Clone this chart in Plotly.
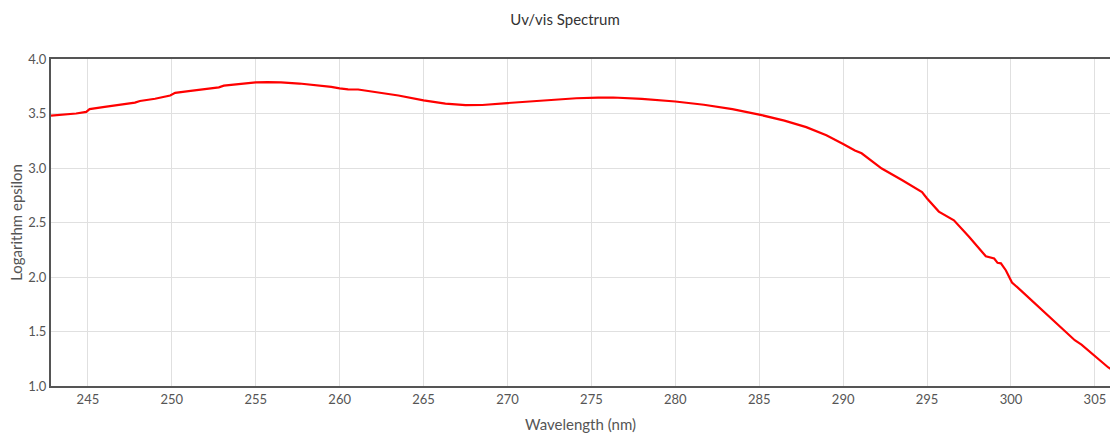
import plotly.graph_objects as go

wavelength = [242.8, 243.3, 243.8, 244.3, 244.9, 245.1, 246.0, 247.0, 247.8, 248.1, 249.0, 249.9, 250.2,
              251.0, 252.0, 252.8, 253.1, 254.0, 255.0, 255.7, 256.5, 257.6, 258.8, 259.5, 260.0, 260.5,
              261.1, 262.0, 263.5, 265.0, 266.3, 267.5, 268.5, 270.0, 272.0, 274.1, 275.4, 276.3, 278.0,
              280.0, 281.7, 283.4, 285.0, 286.5, 287.8, 289.0, 290.0, 290.7, 291.1, 291.6, 292.3, 293.5,
              294.7, 295.0, 295.7, 296.6, 297.5, 298.5, 299.0, 299.2, 299.4, 299.7, 300.06, 300.6, 302.0,
              303.8, 304.2, 305.0, 305.8, 306.5]
log_epsilon = [3.48, 3.485, 3.49, 3.5, 3.515, 3.54, 3.56, 3.585, 3.6, 3.615, 3.635, 3.665, 3.69,
               3.705, 3.725, 3.74, 3.755, 3.77, 3.785, 3.788, 3.786, 3.775, 3.76, 3.745, 3.73, 3.722,
               3.72, 3.7, 3.665, 3.62, 3.59, 3.577, 3.578, 3.596, 3.62, 3.64, 3.645, 3.647, 3.635,
               3.61, 3.58, 3.54, 3.49, 3.435, 3.375, 3.3, 3.22, 3.16, 3.135, 3.08, 2.995, 2.89,
               2.78, 2.72, 2.6, 2.52, 2.37, 2.19, 2.17, 2.13, 2.125, 2.06, 1.95, 1.875, 1.675,
               1.42, 1.38, 1.275, 1.17, 1.1]

x_ticks = [245, 250, 255, 260, 265, 270, 275, 280, 285, 290, 295, 300, 305]
y_ticks = [1.0, 1.5, 2.0, 2.5, 3.0, 3.5, 4.0]

fig = go.Figure()
fig.add_trace(go.Scatter(x=wavelength, y=log_epsilon, mode="lines",
                         line=dict(color="#ff0000", width=2.2), showlegend=False))

fig.update_layout(
    width=1110, height=435,
    margin=dict(l=51, r=0, t=59, b=49),
    paper_bgcolor="white", plot_bgcolor="white",
    font=dict(family="Lato", color="#444"),
    title=dict(text="Uv/vis Spectrum", x=0.509, xanchor="center", y=0.955, yanchor="middle",
               font=dict(family="Lato", size=15, color="#333")),
)
fig.update_xaxes(range=[242.8, 305.9], tickvals=x_ticks, ticktext=[str(t) for t in x_ticks],
                 showgrid=True, gridcolor="#e0e0e0", gridwidth=1,
                 showline=True, linecolor="#555", linewidth=2, mirror=True,
                 ticks="", tickfont=dict(family="Lato", size=13, color="#555"),
                 title=dict(text="Wavelength (nm)", font=dict(family="Lato", size=15, color="#555"), standoff=14),
                 zeroline=False)
fig.update_yaxes(range=[1.0, 4.0], tickvals=y_ticks, ticktext=[f"{t:.1f}" for t in y_ticks],
                 showgrid=True, gridcolor="#e0e0e0", gridwidth=1,
                 showline=True, linecolor="#555", linewidth=2, mirror=False,
                 ticks="", tickfont=dict(family="Lato", size=13, color="#555"),
                 title=dict(text="Logarithm epsilon", font=dict(family="Lato", size=15, color="#555"), standoff=2),
                 zeroline=False)

fig.write_html("out.html", config={"displayModeBar": False},
               post_script="document.body.style.margin='0';document.body.style.overflow='hidden';")
